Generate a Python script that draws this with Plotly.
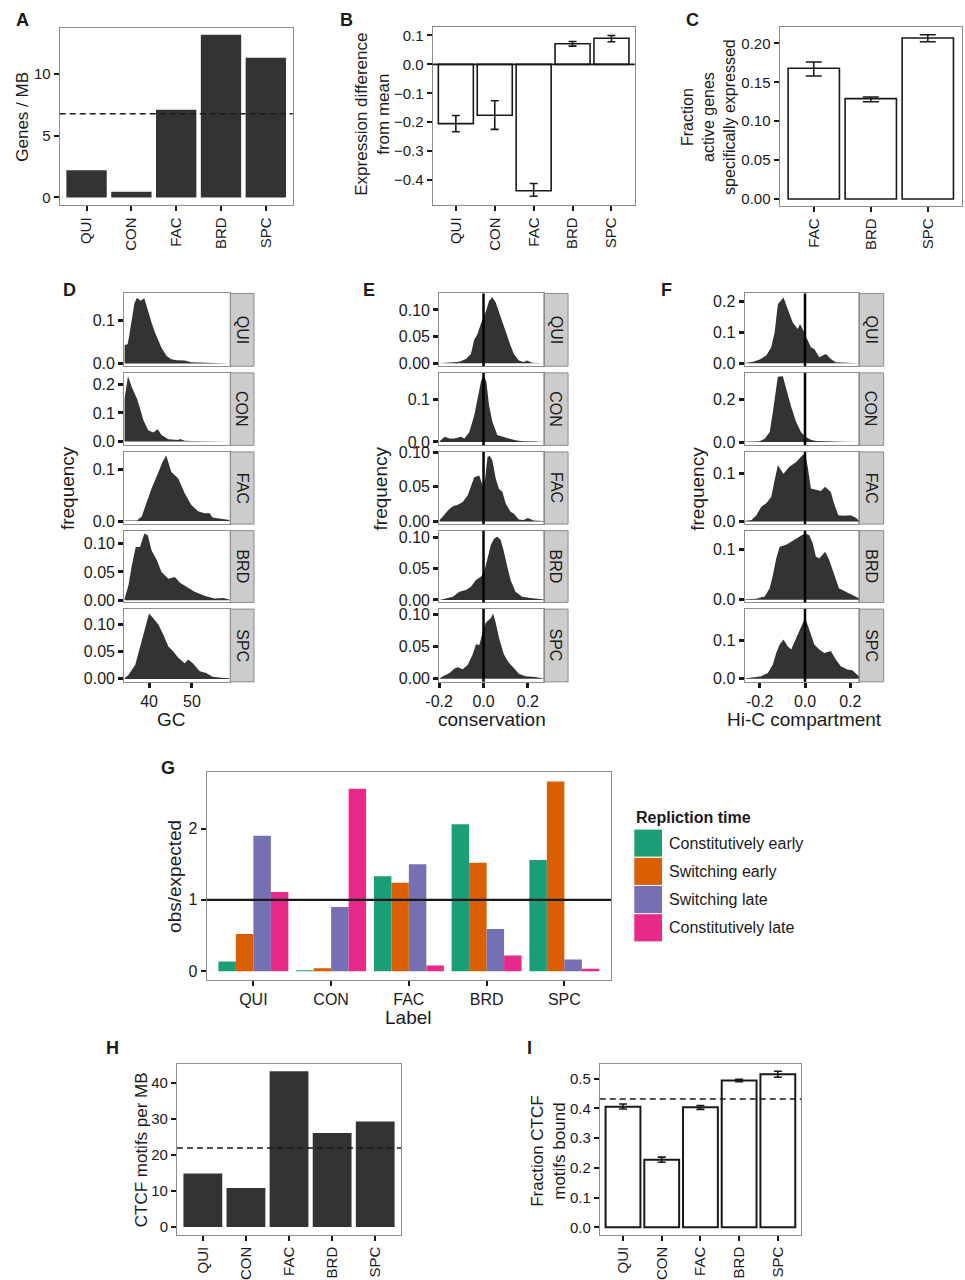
import plotly.graph_objects as go

W, H = 965, 1280
FONT = "Liberation Sans, Arial, Helvetica, sans-serif"
INK = "#1a1a1a"
BOX = "#8c8c8c"
DARK = "#333333"

# ---------------- data ----------------
labels5 = ["QUI", "CON", "FAC", "BRD", "SPC"]
labels3 = ["FAC", "BRD", "SPC"]

# A: genes per MB
genes_per_mb = [2.2, 0.45, 7.1, 13.15, 11.3]
genes_per_mb_mean = 6.77

# B: expression difference from mean
expr_diff = [-0.205, -0.176, -0.437, 0.071, 0.090]
expr_diff_lo = [-0.233, -0.225, -0.456, 0.063, 0.078]
expr_diff_hi = [-0.177, -0.126, -0.412, 0.079, 0.100]

# C: fraction of active genes specifically expressed
frac_specific = [0.168, 0.129, 0.207]
frac_specific_lo = [0.158, 0.125, 0.202]
frac_specific_hi = [0.176, 0.131, 0.211]

# D: GC density
gc_x = {
    "QUI": [34.3, 35.0, 35.3, 36.0, 36.6, 37.2, 38.0, 38.9, 39.8, 40.6, 41.4, 42.2, 42.9, 44.1, 45.2, 46.5, 48.3, 49.8, 52.0, 55.0, 58.7],
    "CON": [34.3, 35.1, 36.0, 37.2, 37.9, 38.7, 39.8, 41.0, 42.0, 42.9, 44.5, 46.8, 47.2, 48.3, 50.0, 54.0, 58.7],
    "FAC": [34.3, 37.2, 38.3, 39.1, 40.6, 42.2, 43.1, 44.0, 44.5, 45.2, 46.8, 48.3, 49.8, 51.4, 52.9, 54.1, 54.8, 56.8, 58.7],
    "BRD": [34.3, 35.2, 36.0, 36.9, 37.9, 38.9, 39.7, 40.6, 41.8, 42.9, 44.5, 46.0, 47.2, 48.7, 50.6, 52.9, 55.2, 57.2, 58.7],
    "SPC": [34.3, 35.2, 36.8, 37.9, 39.1, 40.0, 41.0, 42.2, 43.3, 44.5, 45.6, 46.8, 48.3, 49.1, 50.2, 51.8, 53.3, 54.8, 56.8, 58.7],
}
gc_y = {
    "QUI": [0.043, 0.045, 0.060, 0.103, 0.140, 0.153, 0.146, 0.152, 0.119, 0.095, 0.072, 0.053, 0.037, 0.018, 0.010, 0.008, 0.007, 0.003, 0.002, 0.001, 0.0005],
    "CON": [0.150, 0.229, 0.190, 0.150, 0.116, 0.075, 0.040, 0.032, 0.043, 0.023, 0.008, 0.006, 0.009, 0.003, 0.002, 0.001, 0.0005],
    "FAC": [0.001, 0.001, 0.009, 0.028, 0.064, 0.096, 0.115, 0.128, 0.115, 0.096, 0.083, 0.054, 0.032, 0.019, 0.015, 0.015, 0.007, 0.005, 0.002],
    "BRD": [0.003, 0.026, 0.062, 0.094, 0.094, 0.118, 0.115, 0.088, 0.071, 0.050, 0.038, 0.041, 0.031, 0.024, 0.015, 0.008, 0.003, 0.004, 0.001],
    "SPC": [0.001, 0.007, 0.026, 0.057, 0.094, 0.121, 0.112, 0.100, 0.082, 0.060, 0.051, 0.039, 0.029, 0.036, 0.029, 0.014, 0.011, 0.004, 0.002, 0.001],
}

# E: conservation density
cons_x = {
    "QUI": [-0.198, -0.153, -0.109, -0.079, -0.057, -0.042, -0.027, -0.012, 0.010, 0.025, 0.040, 0.055, 0.077, 0.100, 0.122, 0.137, 0.159, 0.181, 0.196, 0.219, 0.271],
    "CON": [-0.198, -0.175, -0.153, -0.131, -0.101, -0.086, -0.064, -0.042, -0.027, -0.012, 0.000, 0.013, 0.025, 0.040, 0.062, 0.085, 0.114, 0.144, 0.174, 0.233, 0.271],
    "FAC": [-0.198, -0.183, -0.161, -0.138, -0.116, -0.094, -0.071, -0.057, -0.042, -0.019, -0.004, 0.006, 0.018, 0.028, 0.040, 0.055, 0.070, 0.085, 0.100, 0.122, 0.137, 0.159, 0.181, 0.200, 0.226, 0.271],
    "BRD": [-0.198, -0.168, -0.138, -0.109, -0.079, -0.057, -0.034, -0.012, 0.003, 0.018, 0.033, 0.048, 0.062, 0.077, 0.092, 0.107, 0.122, 0.144, 0.174, 0.211, 0.271],
    "SPC": [-0.198, -0.183, -0.153, -0.131, -0.116, -0.094, -0.071, -0.049, -0.034, -0.019, -0.007, 0.010, 0.033, 0.043, 0.055, 0.070, 0.092, 0.114, 0.137, 0.159, 0.189, 0.233, 0.271],
}
cons_y = {
    "QUI": [0.0, 0.001, 0.003, 0.008, 0.0175, 0.044, 0.055, 0.074, 0.096, 0.1175, 0.124, 0.114, 0.086, 0.058, 0.033, 0.0175, 0.005, 0.0025, 0.005, 0.001, 0.0],
    "CON": [0.0015, 0.012, 0.008, 0.008, 0.012, 0.008, 0.023, 0.062, 0.100, 0.140, 0.159, 0.140, 0.085, 0.047, 0.016, 0.012, 0.008, 0.004, 0.002, 0.001, 0.0],
    "FAC": [0.002, 0.007, 0.016, 0.022, 0.024, 0.028, 0.038, 0.052, 0.064, 0.0665, 0.052, 0.059, 0.093, 0.095, 0.088, 0.062, 0.047, 0.043, 0.026, 0.014, 0.011, 0.003, 0.002, 0.005, 0.0015, 0.0005],
    "BRD": [0.0, 0.003, 0.005, 0.013, 0.016, 0.021, 0.032, 0.037, 0.045, 0.066, 0.088, 0.098, 0.101, 0.096, 0.077, 0.053, 0.032, 0.013, 0.005, 0.003, 0.0005],
    "SPC": [0.0005, 0.004, 0.009, 0.016, 0.018, 0.015, 0.022, 0.038, 0.054, 0.053, 0.069, 0.0875, 0.095, 0.102, 0.0875, 0.064, 0.038, 0.025, 0.017, 0.008, 0.004, 0.003, 0.0005],
}

# F: Hi-C compartment density
hic_x = {
    "QUI": [-0.267, -0.229, -0.200, -0.171, -0.149, -0.134, -0.120, -0.095, -0.076, -0.054, -0.032, -0.022, -0.007, 0.012, 0.026, 0.041, 0.063, 0.092, 0.114, 0.136, 0.180, 0.209, 0.238],
    "CON": [-0.267, -0.200, -0.178, -0.156, -0.142, -0.127, -0.120, -0.098, -0.083, -0.061, -0.039, -0.018, 0.004, 0.026, 0.048, 0.092, 0.120, 0.165, 0.238],
    "FAC": [-0.267, -0.236, -0.215, -0.193, -0.171, -0.149, -0.134, -0.120, -0.095, -0.069, -0.039, -0.018, 0.000, 0.012, 0.026, 0.048, 0.070, 0.089, 0.114, 0.128, 0.147, 0.172, 0.201, 0.223, 0.238],
    "BRD": [-0.267, -0.215, -0.178, -0.156, -0.142, -0.127, -0.112, -0.083, -0.061, -0.039, -0.018, 0.000, 0.019, 0.034, 0.048, 0.063, 0.089, 0.107, 0.128, 0.150, 0.180, 0.209, 0.238],
    "SPC": [-0.267, -0.229, -0.193, -0.164, -0.142, -0.127, -0.112, -0.095, -0.076, -0.061, -0.039, -0.018, 0.000, 0.019, 0.041, 0.063, 0.085, 0.114, 0.136, 0.158, 0.187, 0.209, 0.238],
}
hic_y = {
    "QUI": [0.001, 0.005, 0.012, 0.025, 0.052, 0.100, 0.191, 0.213, 0.175, 0.132, 0.111, 0.127, 0.105, 0.073, 0.052, 0.046, 0.019, 0.030, 0.014, 0.003, 0.001, 0.002, 0.0],
    "CON": [0.001, 0.003, 0.0155, 0.0465, 0.140, 0.271, 0.305, 0.307, 0.248, 0.163, 0.093, 0.0465, 0.023, 0.011, 0.005, 0.003, 0.004, 0.001, 0.0],
    "FAC": [0.001, 0.003, 0.013, 0.031, 0.038, 0.052, 0.087, 0.118, 0.100, 0.115, 0.125, 0.136, 0.143, 0.115, 0.069, 0.066, 0.064, 0.073, 0.062, 0.038, 0.013, 0.012, 0.013, 0.008, 0.002],
    "BRD": [0.001, 0.002, 0.0066, 0.023, 0.049, 0.082, 0.105, 0.109, 0.115, 0.122, 0.127, 0.132, 0.128, 0.112, 0.086, 0.082, 0.095, 0.079, 0.053, 0.023, 0.016, 0.010, 0.003],
    "SPC": [0.001, 0.004, 0.007, 0.0155, 0.037, 0.067, 0.089, 0.102, 0.084, 0.076, 0.106, 0.132, 0.158, 0.128, 0.089, 0.076, 0.067, 0.072, 0.050, 0.033, 0.024, 0.022, 0.007],
}

# G: CTCF obs/expected by replication time
rep_types = ["Constitutively early", "Switching early", "Switching late", "Constitutively late"]
rep_colors = ["#1B9E77", "#D95F02", "#7570B3", "#E7298A"]
obs_const_early = [0.135, 0.004, 1.33, 2.06, 1.56]
obs_switch_early = [0.52, 0.04, 1.24, 1.52, 2.66]
obs_switch_late = [1.90, 0.90, 1.50, 0.59, 0.163]
obs_const_late = [1.11, 2.56, 0.08, 0.22, 0.033]

# H: CTCF motifs per MB
ctcf_per_mb = [14.84, 10.8, 43.2, 26.1, 29.3]
ctcf_per_mb_mean = 21.9

# I: fraction CTCF motifs bound
frac_bound = [0.406, 0.227, 0.404, 0.494, 0.515]
frac_bound_lo = [0.398, 0.219, 0.397, 0.490, 0.505]
frac_bound_hi = [0.415, 0.236, 0.410, 0.498, 0.525]
frac_bound_mean = 0.432

# ---------------- helpers ----------------
# The page is photographed with the default 8px body margin and scaled to
# 965x1280; map target pixel positions to paper fractions accordingly.
SX, SY, M = 965 / 973, 1280 / 1296, 8


def PX(x):
    return min(max((x / SX - M) / W, 0.0), 1.0)


def PY(y):
    return min(max(1 - (y / SY - M) / H, 0.0), 1.0)


layout = {}
shapes = []
annotations = []
fig = go.Figure()


def names(n):
    return ("x", "y") if n == 1 else (f"x{n}", f"y{n}")


def lnames(n):
    return ("xaxis", "yaxis") if n == 1 else (f"xaxis{n}", f"yaxis{n}")


def base_axis(tsize=15):
    return dict(showline=True, mirror=True, linecolor=BOX, linewidth=1,
                showgrid=False, zeroline=False, ticks="outside", ticklen=5,
                tickwidth=1.5, tickcolor=INK, fixedrange=True,
                tickfont=dict(size=tsize, color=INK, family=FONT))


def set_axes(n, box, xopts, yopts, tsize=15):
    left, right, top, bottom = box
    xa, ya = lnames(n)
    xr, yr = names(n)
    xd = base_axis(tsize)
    xd.update(domain=[PX(left), PX(right)], anchor=yr)
    xd.update(xopts)
    yd = base_axis(tsize)
    yd.update(domain=[PY(bottom), PY(top)], anchor=xr)
    yd.update(yopts)
    layout[xa] = xd
    layout[ya] = yd


def text(x, y, s, size=17, angle=0, bold=False, xanchor="center", yanchor="middle"):
    annotations.append(dict(x=PX(x), y=PY(y), xref="paper", yref="paper",
                            text=f"<b>{s}</b>" if bold else s, showarrow=False,
                            textangle=angle, xanchor=xanchor, yanchor=yanchor,
                            font=dict(size=size, color=INK, family=FONT)))


def hline(n, y, dash=None, width=1.5):
    xr, yr = names(n)
    shapes.append(dict(type="line", xref=f"{xr} domain", yref=yr, x0=0, x1=1, y0=y, y1=y,
                       line=dict(color=INK, width=width, dash=dash), layer="above"))


def err(vals, lo, hi):
    return dict(type="data", symmetric=False,
                array=[h - v for v, h in zip(vals, hi)],
                arrayminus=[v - l for v, l in zip(vals, lo)],
                color=INK, thickness=1.6)


# ---------------- A ----------------
fig.add_trace(go.Bar(x=labels5, y=genes_per_mb, marker=dict(color=DARK, line=dict(width=0)),
                     width=0.9, xaxis="x", yaxis="y"))
set_axes(1, (54, 289, 28, 206),
         dict(type="category", range=[-0.6, 4.6], tickangle=-90),
         dict(range=[-0.65, 13.7], tickvals=[0, 5, 10]))
hline(1, genes_per_mb_mean, dash="6px,4px")
text(17, 117, "Genes / MB", angle=-90)
text(8, 8, "A", size=18, bold=True, xanchor="left", yanchor="top")

# ---------------- B ----------------
fig.add_trace(go.Bar(x=labels5, y=expr_diff, width=0.9,
                     marker=dict(color="white", line=dict(color=INK, width=1.6)),
                     error_y=dict(err(expr_diff, expr_diff_lo, expr_diff_hi), width=4),
                     xaxis="x2", yaxis="y2"))
set_axes(2, (430, 634, 27, 206),
         dict(type="category", range=[-0.6, 4.6], tickangle=-90),
         dict(range=[-0.488, 0.129], tickvals=[-0.4, -0.3, -0.2, -0.1, 0.0, 0.1], tickformat=".1f"))
hline(2, 0, width=1.6)
text(370, 115, "Expression difference<br>from mean", angle=-90)
text(343, 8, "B", size=18, bold=True, yanchor="top")

# ---------------- C ----------------
fig.add_trace(go.Bar(x=labels3, y=frac_specific, width=0.9,
                     marker=dict(color="white", line=dict(color=INK, width=1.6)),
                     error_y=dict(err(frac_specific, frac_specific_lo, frac_specific_hi), width=8),
                     xaxis="x3", yaxis="y3"))
set_axes(3, (780, 964, 27, 207),
         dict(type="category", range=[-0.6, 2.6], tickangle=-90),
         dict(range=[-0.0096, 0.221], tickvals=[0, 0.05, 0.10, 0.15, 0.20], tickformat=".2f"))
text(709, 117, "Fraction<br>active genes<br>specifically expressed", size=16, angle=-90)
text(692, 8, "C", size=18, bold=True, yanchor="top")

# ---------------- D / E / F facets ----------------
rows_px = [(294.3, 367.3), (374.0, 446.7), (453.3, 525.7), (532.3, 604.3), (611.0, 684.0)]

facet_sets = [
    dict(n0=4, px=(119, 226), sx=(226, 250), xr=[34.2, 58.9], xt=[40, 50], xtt=["40", "50"],
         dx=gc_x, dy=gc_y,
         yr=[[-0.006, 0.163], [-0.013, 0.24], [-0.006, 0.135], [-0.004, 0.123], [-0.0055, 0.129]],
         yt=[[0, 0.1], [0, 0.1, 0.2], [0, 0.1], [0, 0.05, 0.10], [0, 0.05, 0.10]],
         yf=[".1f", ".1f", ".1f", ".2f", ".2f"], vline=False,
         title="GC", tx=167, ty=722, letter="D", lx=64, ylab_x=62),
    dict(n0=9, px=(436.7, 542.3), sx=(542.3, 566.7), xr=[-0.2, 0.272], xt=[-0.2, 0.0, 0.2],
         xtt=["-0.2", "0.0", "0.2"], dx=cons_x, dy=cons_y,
         yr=[[-0.0056, 0.131], [-0.0078, 0.161], [-0.0038, 0.1005], [-0.004, 0.1106], [-0.0047, 0.109]],
         yt=[[0, 0.05, 0.10], [0, 0.1], [0, 0.05, 0.10], [0, 0.05, 0.10], [0, 0.05, 0.10]],
         yf=[".2f", ".1f", ".2f", ".2f", ".2f"], vline=True,
         title="conservation", tx=490, ty=722, letter="E", lx=366, ylab_x=378),
    dict(n0=14, px=(744.7, 860), sx=(860, 885), xr=[-0.267, 0.238], xt=[-0.2, 0.0, 0.2],
         xtt=["-0.2", "0.0", "0.2"], dx=hic_x, dy=hic_y,
         yr=[[-0.0097, 0.226], [-0.0155, 0.3225], [-0.0056, 0.146], [-0.0053, 0.137], [-0.0078, 0.181]],
         yt=[[0, 0.1, 0.2], [0, 0.2], [0, 0.1], [0, 0.1], [0, 0.1]],
         yf=[".1f", ".1f", ".1f", ".1f", ".1f"], vline=True,
         title="Hi-C compartment", tx=805, ty=722, letter="F", lx=666, ylab_x=697),
]

for fs in facet_sets:
    for i, lab in enumerate(labels5):
        n = fs["n0"] + i
        xr, yr = names(n)
        top, bottom = rows_px[i]
        fig.add_trace(go.Scatter(x=fs["dx"][lab], y=fs["dy"][lab], mode="lines",
                                 line=dict(width=0, color=DARK), fill="tozeroy",
                                 fillcolor=DARK, xaxis=xr, yaxis=yr, hoverinfo="skip"))
        last = i == len(labels5) - 1
        xopts = dict(range=fs["xr"], tickvals=fs["xt"], ticktext=fs["xtt"], ticklen=5, tickwidth=2.5)
        if not last:
            xopts.update(showticklabels=False, ticks="")
        set_axes(n, (fs["px"][0], fs["px"][1], top, bottom), xopts,
                 dict(range=fs["yr"][i], tickvals=fs["yt"][i], tickformat=fs["yf"][i],
                      ticklen=5, tickwidth=2.5), tsize=16)
        shapes.append(dict(type="rect", xref="paper", yref="paper",
                           x0=PX(fs["sx"][0]), x1=PX(fs["sx"][1]),
                           y0=PY(bottom), y1=PY(top),
                           fillcolor="#cccccc", line=dict(color=BOX, width=1), layer="below"))
        text((fs["sx"][0] + fs["sx"][1]) / 2, (top + bottom) / 2, lab, size=16, angle=90)
        if fs["vline"]:
            shapes.append(dict(type="line", xref=xr, yref=f"{yr} domain", x0=0, x1=0, y0=0, y1=1,
                               line=dict(color="black", width=2.5), layer="above"))
    text(fs["tx"], fs["ty"], fs["title"], size=19)
    text(fs["ylab_x"], 490, "frequency", size=19, angle=-90)
    text(fs["lx"], 291, fs["letter"], size=18, bold=True)

# ---------------- G ----------------
for name, col, vals in zip(rep_types, rep_colors,
                           [obs_const_early, obs_switch_early, obs_switch_late, obs_const_late]):
    fig.add_trace(go.Bar(x=labels5, y=vals, name=name, marker=dict(color=col, line=dict(width=0)),
                         xaxis="x19", yaxis="y19"))
set_axes(19, (202.3, 610, 774.7, 983.3),
         dict(type="category", range=[-0.6, 4.6], tickangle=0),
         dict(range=[-0.126, 2.79], tickvals=[0, 1, 2]), tsize=16)
hline(19, 1, width=2.4)
text(406, 1021, "Label", size=19)
text(170, 879, "obs/expected", size=19, angle=-90)
text(163, 770, "G", size=18, bold=True)
text(633, 820, "Repliction time", size=16, bold=True, xanchor="left")
key_top = 831.7
key_h = 28.3
for k, (name, col) in enumerate(zip(rep_types, rep_colors)):
    y0 = key_top + k * key_h
    shapes.append(dict(type="rect", xref="paper", yref="paper", x0=PX(633), x1=PX(662),
                       y0=PY(y0 + key_h), y1=PY(y0), fillcolor=col,
                       line=dict(color="white", width=1)))
    text(666, y0 + key_h / 2, name, size=16, xanchor="left")

# ---------------- H ----------------
fig.add_trace(go.Bar(x=labels5, y=ctcf_per_mb, width=0.9, marker=dict(color=DARK, line=dict(width=0)),
                     xaxis="x20", yaxis="y20"))
set_axes(20, (172.3, 398.3, 1067.3, 1238.7),
         dict(type="category", range=[-0.6, 4.6], tickangle=-90),
         dict(range=[-2.13, 45.25], tickvals=[0, 10, 20, 30, 40]))
hline(20, ctcf_per_mb_mean, dash="6px,4px")
text(136, 1153, "CTCF motifs per MB", angle=-90)
text(107, 1051, "H", size=18, bold=True)

# ---------------- I ----------------
fig.add_trace(go.Bar(x=labels5, y=frac_bound, width=0.9,
                     marker=dict(color="white", line=dict(color=INK, width=2)),
                     error_y=dict(err(frac_bound, frac_bound_lo, frac_bound_hi), width=4),
                     xaxis="x21", yaxis="y21"))
set_axes(21, (598.7, 801.7, 1067.3, 1238.7),
         dict(type="category", range=[-0.6, 4.6], tickangle=-90),
         dict(range=[-0.025, 0.55], tickvals=[0, 0.1, 0.2, 0.3, 0.4, 0.5], tickformat=".1f"))
hline(21, frac_bound_mean, dash="6px,4px")
text(547, 1155, "Fraction CTCF<br>motifs bound", angle=-90)
text(528, 1051, "I", size=18, bold=True)

fig.update_layout(
    width=W, height=H, margin=dict(l=0, r=0, t=0, b=0),
    paper_bgcolor="white", plot_bgcolor="white",
    showlegend=False, barmode="group", bargap=0.1, bargroupgap=0,
    font=dict(family=FONT, color=INK),
    shapes=shapes, annotations=annotations, **layout,
)
fig.write_html("out.html", config=dict(displayModeBar=False))
